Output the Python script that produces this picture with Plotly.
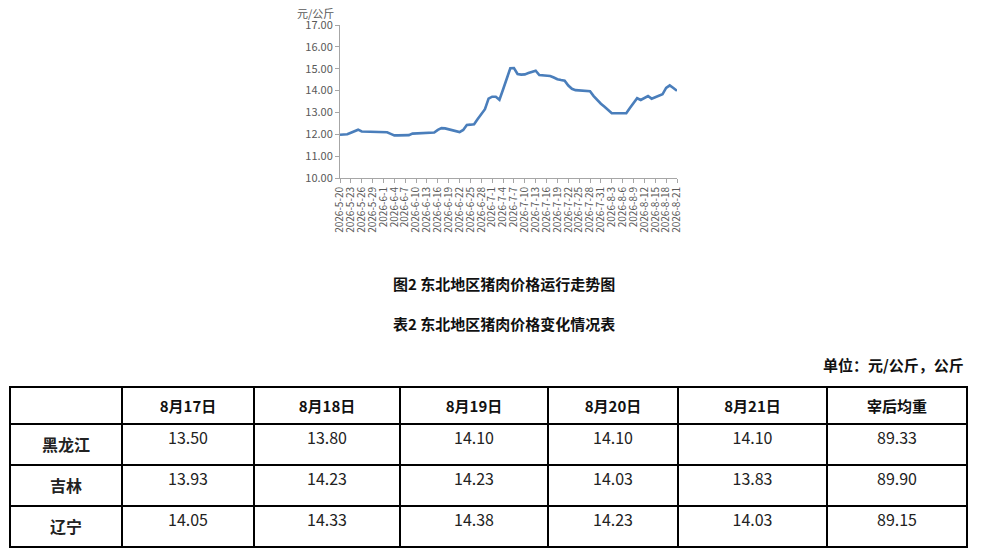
import pandas as pd
import plotly.graph_objects as go

# 东北地区猪肉日均价（元/公斤），2026-5-20 至 2026-8-21
start_date = "2026-05-20"
prices = [
    11.98, 11.98, 12.00, 12.07, 12.14, 12.21, 12.13, 12.12, 12.12, 12.12,
    12.11, 12.11, 12.10, 12.09, 12.02, 11.95, 11.95, 11.95, 11.95, 11.96,
    12.03, 12.04, 12.05, 12.05, 12.06, 12.06, 12.08, 12.20, 12.28, 12.27,
    12.23, 12.18, 12.13, 12.10, 12.20, 12.43, 12.44, 12.46, 12.70, 12.92,
    13.15, 13.63, 13.72, 13.72, 13.58, 14.05, 14.55, 15.02, 15.03, 14.76,
    14.73, 14.74, 14.80, 14.86, 14.91, 14.71, 14.69, 14.68, 14.67, 14.60,
    14.52, 14.48, 14.45, 14.23, 14.08, 14.02, 14.00, 13.99, 13.98, 13.97,
    13.75, 13.55, 13.40, 13.26, 13.10, 12.96, 12.96, 12.96, 12.96, 12.96,
    13.20, 13.43, 13.65, 13.57, 13.68, 13.75, 13.63, 13.70, 13.76, 13.83,
    14.12, 14.24, 14.12, 13.99,
]
dates = pd.date_range(start_date, periods=len(prices), freq="D")

# 表2 数据
table_cols = ["", "8月17日", "8月18日", "8月19日", "8月20日", "8月21日", "宰后均重"]
provinces = ["黑龙江", "吉林", "辽宁"]
aug17 = ["13.50", "13.93", "14.05"]
aug18 = ["13.80", "14.23", "14.33"]
aug19 = ["14.10", "14.23", "14.38"]
aug20 = ["14.10", "14.03", "14.23"]
aug21 = ["14.10", "13.83", "14.03"]
weight = ["89.33", "89.90", "89.15"]

# 页面 body 自带 8px 边距，图本身缩小并按此偏移定位
OFF = 8
W, H = 983 - OFF, 552 - OFF
FONT = "Noto Sans CJK SC"


def px_x(x):
    return (x - OFF) / W


def px_y(y):
    return 1 - (y - OFF) / H


fig = go.Figure()

fig.add_trace(go.Scatter(
    x=dates, y=prices, mode="lines",
    line=dict(color="#4a7ebb", width=2.6),
    hoverinfo="x+y", showlegend=False,
))

fig.add_trace(go.Table(
    domain=dict(x=[px_x(10), px_x(967)], y=[0, px_y(387)]),
    columnwidth=[112, 132, 146, 148, 130, 149, 140],
    header=dict(
        values=[f"<b>{c}</b>" for c in table_cols],
        height=35,
        align="center",
        line=dict(color="#000000", width=1.3),
        fill=dict(color="white"),
        font=dict(family=FONT, size=15, color="#111111"),
    ),
    cells=dict(
        values=[[f"<b>{p}</b>" for p in provinces], aug17, aug18, aug19, aug20, aug21, weight],
        height=41,
        align="center",
        line=dict(color="#000000", width=1.3),
        fill=dict(color="white"),
        font=dict(family=FONT, size=16, color="#222222"),
    ),
))

fig.update_xaxes(
    type="date", automargin=False,
    domain=[px_x(340), px_x(677)],
    range=[dates[0], dates[-1]],
    tick0=start_date, dtick=3 * 86400000,
    tickformat="%Y-%-m-%-d", tickangle=-90,
    tickfont=dict(family=FONT, size=10, color="#595959"),
    ticks="outside", ticklen=4, tickcolor="#a6a6a6",
    showline=True, linecolor="#a6a6a6", linewidth=1,
    showgrid=False, zeroline=False,
)
fig.update_yaxes(
    automargin=False,
    domain=[px_y(178), px_y(25)],
    range=[10, 17], dtick=1, tickformat=".2f",
    tickfont=dict(family=FONT, size=11, color="#595959"),
    ticks="outside", ticklen=4, tickcolor="#a6a6a6",
    showline=True, linecolor="#a6a6a6", linewidth=1,
    showgrid=False, zeroline=False,
)

notes = [
    ("元/公斤", 315, 13, "center", 11, "#595959"),
    ("<b>图2 东北地区猪肉价格运行走势图</b>", 504, 283, "center", 15, "#111111"),
    ("<b>表2 东北地区猪肉价格变化情况表</b>", 504, 323, "center", 15, "#111111"),
    ("<b>单位：元/公斤，公斤</b>", 966, 364, "right", 15, "#111111"),
]
for text, x, y, anchor, size, color in notes:
    fig.add_annotation(
        text=text, x=px_x(x), y=px_y(y), xref="paper", yref="paper",
        xanchor=anchor, yanchor="middle", showarrow=False,
        font=dict(family=FONT, size=size, color=color),
    )

fig.update_layout(
    width=W, height=H,
    margin=dict(l=0, r=0, t=0, b=0, autoexpand=False),
    paper_bgcolor="white", plot_bgcolor="white",
    font=dict(family=FONT),
)

fig.write_html("out.html")
